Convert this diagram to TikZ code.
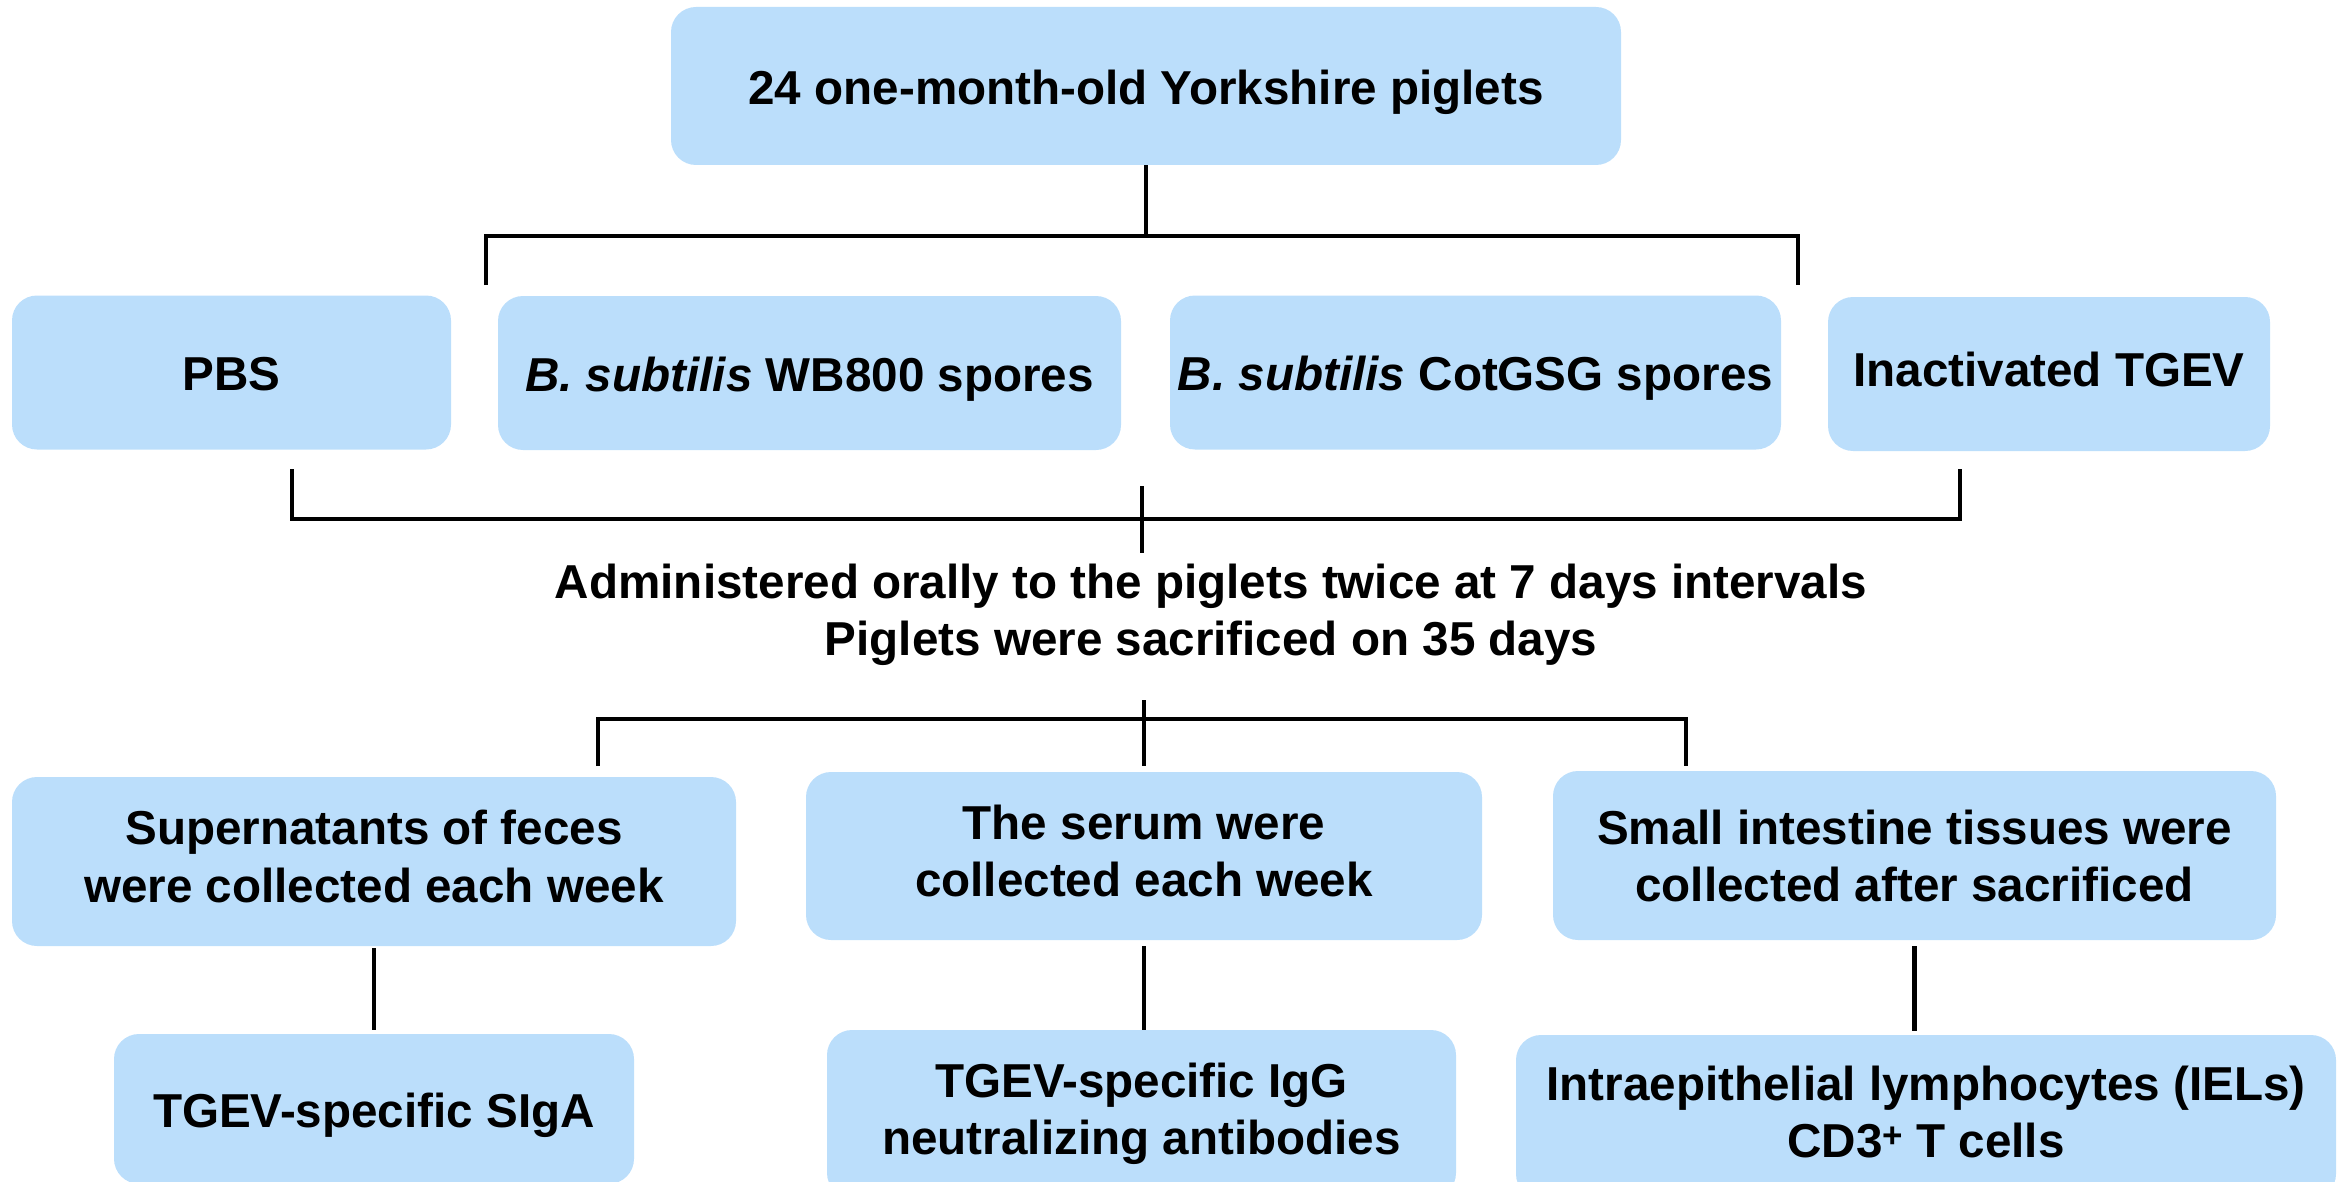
\documentclass[tikz,border=0pt]{standalone}
\usepackage{fontspec}
\setmainfont{Liberation Sans}
\definecolor{boxblue}{RGB}{187,222,251}
\newcommand\mytop[1][0.76em]{\rule{0pt}{#1}}
\newcommand\mybot{\rule[-0.25em]{0pt}{0pt}}
\begin{document}
\begin{tikzpicture}[x=0.5pt,y=-0.5pt,
  txt/.style={inner sep=0pt, align=center, font=\bfseries\fontsize{23.8}{28.8}\selectfont},
  box/.style={txt, fill=boxblue, draw=none, rounded corners=12.5pt},
  oneline/.style={text height=18.1pt, text depth=0pt},
  conn/.style={line width=2.2pt, draw=black}]
\useasboundingbox (0,0) rectangle (2344,1182);
\clip (0,0) rectangle (2344,1182);
% boxes
\node[box, oneline, minimum width=475pt, minimum height=79pt] (top) at (1146,86) {24 one-month-old Yorkshire piglets};
\node[box, oneline, minimum width=219.5pt, minimum height=77pt] (pbs) at (231.5,372.5) {PBS};
\node[box, oneline, minimum width=311.5pt, minimum height=77pt] (wb) at (809.5,373) {\textit{B. subtilis} WB800 spores};
\node[box, oneline, minimum width=305.5pt, minimum height=77pt] (cot) at (1475.5,372.5) {\textit{B. subtilis} CotGSG spores};
\node[box, oneline, minimum width=221pt, minimum height=77pt] (tgev) at (2049,374) {\raisebox{3pt}{Inactivated TGEV}};
\node[txt] (admin) at (1211,615) {\mytop Administered orally to the piglets twice at 7 days intervals\\Piglets were sacrificed on 35 days\mybot};
\node[box, minimum width=362pt, minimum height=84.5pt] (sup) at (374,861.5) {\mytop Supernatants of feces\\were collected each week\mybot};
\node[box, minimum width=338pt, minimum height=84pt] (ser) at (1144,856) {\mytop The serum were\\collected each week\mybot};
\node[box, minimum width=361.5pt, minimum height=84.5pt] (sml) at (1914.5,855.5) {\mytop[0.99em]Small intestine tissues were\\collected after sacrificed\mybot};
\node[box, oneline, minimum width=260pt, minimum height=74.9pt] (siga) at (374,1108.9) {TGEV-specific SIgA};
\node[box, minimum width=314.5pt, minimum height=84pt] (igg) at (1141.5,1114) {\mytop TGEV-specific IgG\\neutralizing antibodies\mybot};
\node[box, minimum width=410pt, minimum height=82pt] (iel) at (1926,1117) {\mytop Intraepithelial lymphocytes (IELs)\\CD3\raisebox{5pt}{\fontsize{17.5}{17.5}\selectfont +} T cells\mybot};
% bracket 1
\coordinate (j1) at (1144,236);
\coordinate (b1l) at (486,285);
\coordinate (b1r) at (1798,285);
\draw[conn] (top.south) -- (top.south |- j1);
\draw[conn] (b1l) |- (j1) -| (b1r);
% bracket 2
\coordinate (b2l) at (292,469);
\coordinate (b2r) at (1960,469);
\coordinate (j2) at (1142,519);
\coordinate (c2t) at (1142,486);
\coordinate (c2b) at (1142,553);
\draw[conn] (b2l) |- (j2) -| (b2r);
\draw[conn] (c2t) -- (c2b);
% bracket 3
\coordinate (c3t) at (1144,700);
\coordinate (h3) at (1144,719);
\coordinate (j3l) at (598,766);
\coordinate (j3r) at (1686,766);
\draw[conn, shorten >=3pt] (c3t) -- (ser.north);
\draw[conn] (j3l) |- (h3) -| (j3r);
% row 3 to row 4
\draw[conn, shorten <=1pt, shorten >=2pt] (sup.south) -- (siga.north);
\draw[conn, shorten <=3pt] (ser.south) -- (ser.south |- igg.north);
\draw[conn, shorten <=3pt, shorten >=2pt] (sml.south) -- (sml.south |- iel.north);
\end{tikzpicture}
\end{document}
